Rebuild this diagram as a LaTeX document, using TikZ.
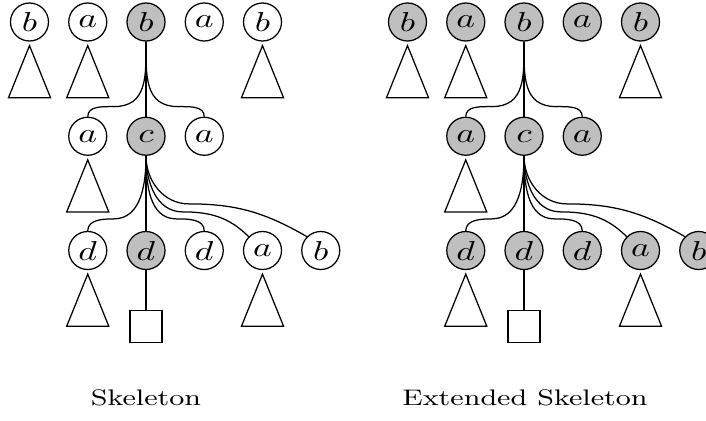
\documentclass[tikz,border=0pt]{standalone}
\usepackage{graphicx}
\usetikzlibrary{positioning, calc}

\newcommand{\sym}[1]{\scalebox{1.3}[1]{$#1$}}
\newcommand{\captext}[1]{\scalebox{1.3}[1]{#1}}

\tikzset{
    vtx/.style={draw, circle, minimum size=15.2pt, inner sep=0pt, fill=white, font=\fontsize{10.5}{12}\selectfont},
    hot/.style={vtx, fill=black!25},
    leaf/.style={draw, rectangle, minimum size=12.8pt, inner sep=0pt},
    caption/.style={anchor=base, inner sep=0pt, font=\fontsize{9}{11}\selectfont},
    subtree/.pic={\draw (0,0) -- (-21,-52) -- (21,-52) -- cycle;}
}

\begin{document}
\begin{tikzpicture}[
    x=0.4pt, y=0.4pt,
    line width=0.5pt,
    node distance=30pt and 7.6pt
]
\useasboundingbox (0,0) rectangle (706,-420);

% Skeleton
\node[hot] (lroot) at (146,-22) {\sym{b}};
\node[vtx, left=of lroot] (la1) {\sym{a}};
\node[vtx, left=of la1] (lb1) {\sym{b}};
\node[vtx, right=of lroot] (la2) {\sym{a}};
\node[vtx, right=of la2] (lb2) {\sym{b}};

\node[hot, below=of lroot] (lc) {\sym{c}};
\node[vtx, left=of lc] (la3) {\sym{a}};
\node[vtx, right=of lc] (la4) {\sym{a}};

\node[hot, below=of lc] (ld2) {\sym{d}};
\node[vtx, left=of ld2] (ld1) {\sym{d}};
\node[vtx, right=of ld2] (ld3) {\sym{d}};
\node[vtx, right=of ld3] (la5) {\sym{a}};
\node[vtx, right=of la5] (lb3) {\sym{b}};

\node[leaf, below=16pt of ld2] (lsq) {};

\pic at ($(lb1.south)+(0,-4)$) {subtree};
\pic at ($(la1.south)+(0,-4)$) {subtree};
\pic at ($(lb2.south)+(0,-4)$) {subtree};
\pic at ($(la3.south)+(0,-4)$) {subtree};
\pic at ($(ld1.south)+(0,-4)$) {subtree};
\pic at ($(la5.south)+(0,-4)$) {subtree};

\draw (lroot) -- (lc);
\draw (lroot.south) to[out=-90, in=0, looseness=1.2] ($(la3.north)+(26,10)$) to[out=180, in=90] (la3.north);
\draw (lroot.south) to[out=-90, in=180, looseness=1.2] ($(la4.north)+(-26,10)$) to[out=0, in=90] (la4.north);

\draw (lc) -- (ld2);
\draw (ld2) -- (lsq);
\draw (lc.south) to[out=-90, in=0] ($(ld1.north)+(26,12)$) to[out=180, in=90] (ld1.north);
\draw (lc.south) to[out=-90, in=180] ($(ld3.north)+(-28,12)$) to[out=0, in=90] (ld3.north);
\draw (lc.south) to[out=-90, in=180] ($(la5.north)+(-80,19)$) to[out=0, in=135] (la5.north west);
\draw (lc.south) to[out=-90, in=180] ($(lb3.north)+(-132,27)$) to[out=0, in=150] (lb3.north west);

\node[caption] (lcap) at (146,-405) {\captext{Skeleton}};

% Extended Skeleton
\node[hot] (rroot) at (524,-22) {\sym{b}};
\node[hot, left=of rroot] (ra1) {\sym{a}};
\node[hot, left=of ra1] (rb1) {\sym{b}};
\node[hot, right=of rroot] (ra2) {\sym{a}};
\node[hot, right=of ra2] (rb2) {\sym{b}};

\node[hot, below=of rroot] (rc) {\sym{c}};
\node[hot, left=of rc] (ra3) {\sym{a}};
\node[hot, right=of rc] (ra4) {\sym{a}};

\node[hot, below=of rc] (rd2) {\sym{d}};
\node[hot, left=of rd2] (rd1) {\sym{d}};
\node[hot, right=of rd2] (rd3) {\sym{d}};
\node[hot, right=of rd3] (ra5) {\sym{a}};
\node[hot, right=of ra5] (rb3) {\sym{b}};

\node[leaf, below=16pt of rd2] (rsq) {};

\pic at ($(rb1.south)+(0,-4)$) {subtree};
\pic at ($(ra1.south)+(0,-4)$) {subtree};
\pic at ($(rb2.south)+(0,-4)$) {subtree};
\pic at ($(ra3.south)+(0,-4)$) {subtree};
\pic at ($(rd1.south)+(0,-4)$) {subtree};
\pic at ($(ra5.south)+(0,-4)$) {subtree};

\draw (rroot) -- (rc);
\draw (rroot.south) to[out=-90, in=0, looseness=1.2] ($(ra3.north)+(26,10)$) to[out=180, in=90] (ra3.north);
\draw (rroot.south) to[out=-90, in=180, looseness=1.2] ($(ra4.north)+(-26,10)$) to[out=0, in=90] (ra4.north);

\draw (rc) -- (rd2);
\draw (rd2) -- (rsq);
\draw (rc.south) to[out=-90, in=0] ($(rd1.north)+(26,12)$) to[out=180, in=90] (rd1.north);
\draw (rc.south) to[out=-90, in=180] ($(rd3.north)+(-28,12)$) to[out=0, in=90] (rd3.north);
\draw (rc.south) to[out=-90, in=180] ($(ra5.north)+(-80,19)$) to[out=0, in=135] (ra5.north west);
\draw (rc.south) to[out=-90, in=180] ($(rb3.north)+(-132,27)$) to[out=0, in=150] (rb3.north west);

\node[caption] (rcap) at (525,-405) {\captext{Extended Skeleton}};

\end{tikzpicture}
\end{document}
